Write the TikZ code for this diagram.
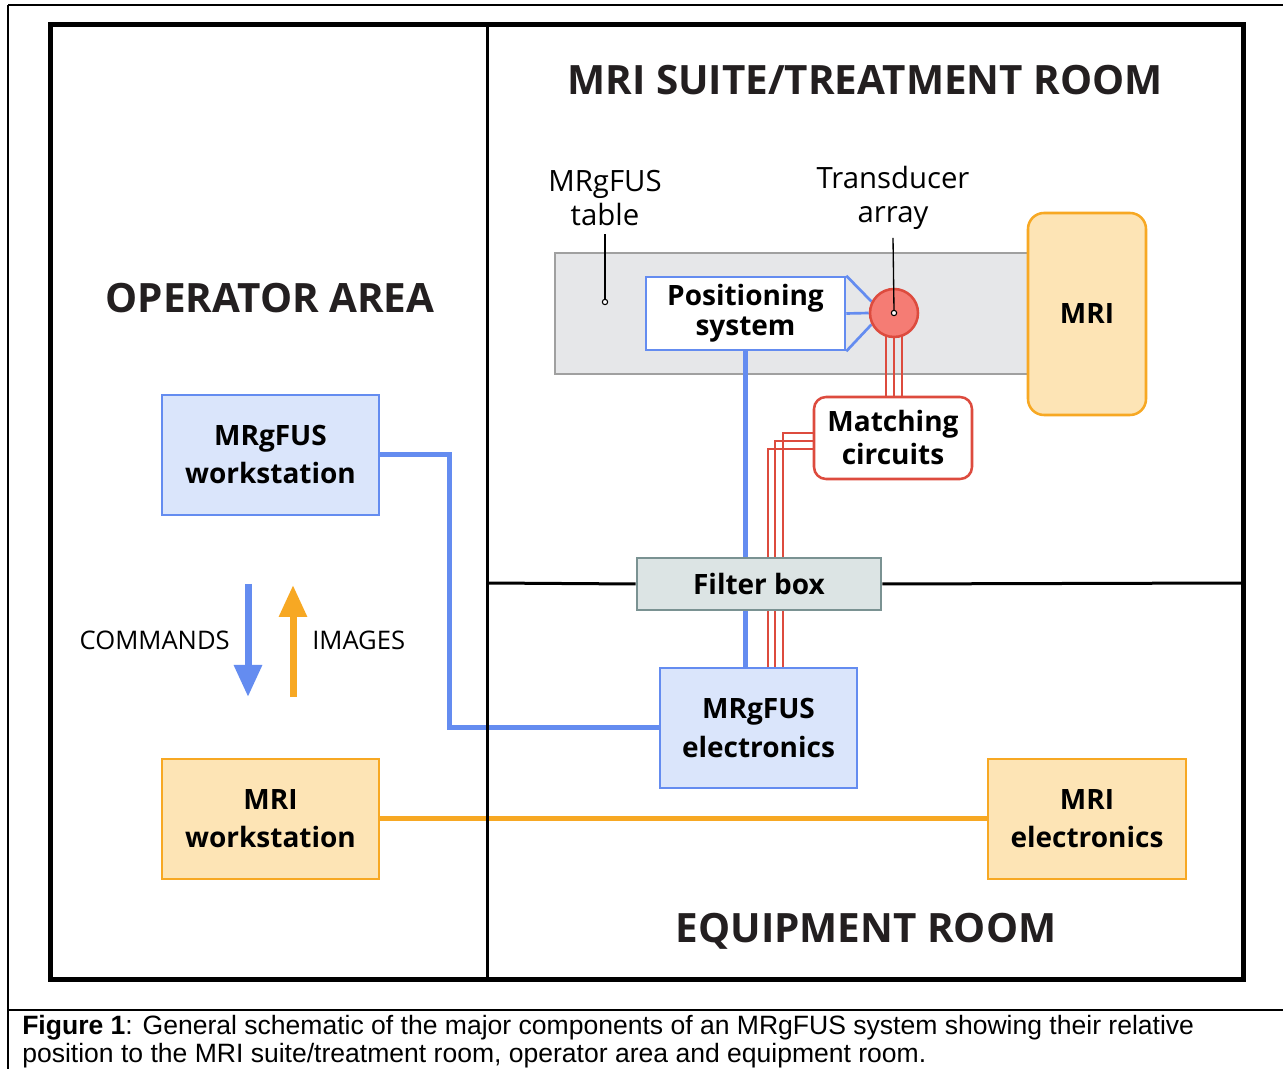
\documentclass[tikz,border=0pt]{standalone}
\usepackage{fontspec}
\setmainfont{Open Sans}
\newfontfamily\capfont{Liberation Sans}
\usetikzlibrary{arrows.meta,calc}
\definecolor{fusblue}{RGB}{100,140,240}
\definecolor{fusfill}{RGB}{218,229,251}
\definecolor{mriorange}{RGB}{247,168,35}
\definecolor{mrifill}{RGB}{253,228,181}
\definecolor{wirered}{RGB}{221,75,62}
\definecolor{transfill}{RGB}{245,124,116}
\definecolor{filterfill}{RGB}{220,228,228}
\definecolor{filterdraw}{RGB}{122,146,146}
\definecolor{tablefill}{RGB}{230,231,233}
\definecolor{tabledraw}{RGB}{160,160,160}
\definecolor{titlegray}{RGB}{35,31,32}
\pgfdeclarelayer{back}
\pgfdeclarelayer{wires}
\pgfsetlayers{back,wires,main}
\begin{document}
\begin{tikzpicture}[x=0.75pt,y=-0.75pt,
  sz/.style 2 args={minimum width=#1*0.75pt, minimum height=#2*0.75pt},
  box/.style={draw, line width=1.9pt, inner sep=0pt, align=center, text=black,
    font=\fontsize{21}{28.5}\selectfont\bfseries},
  fusbox/.style={box, draw=fusblue, fill=fusfill},
  mribox/.style={box, draw=mriorange, fill=mrifill},
  room/.style={font=\fontsize{30.3}{33}\selectfont\bfseries, text=titlegray, inner sep=0pt},
  lbl/.style={font=\fontsize{22}{25.5}\selectfont, align=center, text=black, inner sep=0pt},
  sidelbl/.style={font=\fontsize{19.2}{21}\selectfont, text=black, inner sep=0pt},
  fuswire/.style={draw=fusblue, line width=3.75pt},
  mriwire/.style={draw=mriorange, line width=3.75pt},
  redwire/.style={draw=wirered, line width=1.7pt},
  pinline/.style={draw=black, line width=1pt},
  pindot/.style={circle, draw=black, fill=white, line width=0.8pt, inner sep=0pt, minimum size=4pt},
  capt/.style={anchor=base west, inner sep=0pt, font=\capfont\fontsize{19.9}{22}\selectfont}
]
\useasboundingbox (0,0) rectangle (1283,1069);

% background and MRgFUS table
\begin{pgfonlayer}{back}
\fill[white] (0,0) rectangle (1283,1069);
\draw[fill=tablefill, draw=tabledraw, line width=1.4pt] (555,253) rectangle (1040,374);
\end{pgfonlayer}

% outer table lines of the figure
\draw[line width=1.2pt] (8,5) -- (1283,5);
\draw[line width=1.2pt] (8,5) -- (8,1069);
\draw[line width=1.5pt] (8,1010) -- (1283,1010);

% nodes
\node[fusbox, sz={217}{120}] (mwork) at (270.5,455) {MRgFUS\\workstation};
\node[mribox, sz={217}{120}] (mriws) at (270.5,819) {MRI\\workstation};
\node[mribox, sz={198}{120}] (mrie) at (1087,819) {MRI\\electronics};
\node[fusbox, sz={197}{120}] (fuse) at (758.5,728) {MRgFUS\\electronics};
\node[box, draw=fusblue, fill=white, sz={199}{73}, font=\fontsize{21}{22.5}\selectfont\bfseries] (pos) at (745.5,313.5) {Positioning\\system};
\node[box, draw=wirered, fill=white, rounded corners=9pt, sz={158}{82}, font=\fontsize{21}{24.75}\selectfont\bfseries] (match) at (893,438) {Matching\\circuits};
\node[mribox, rounded corners=12pt, sz={118}{202}] (mri) at (1087,314) {MRI};
\node[circle, draw=wirered, fill=transfill, line width=1.9pt, inner sep=0pt, minimum size=48*0.75pt] (trans) at (894,313) {};
\node[box, draw=filterdraw, fill=filterfill, sz={244}{52}] (filter) at (759,584) {Filter box};

% labels
\node[lbl] (tlabel) at (605,198) {MRgFUS\\table};
\node[lbl] (alabel) at (893,198) {Transducer\\array};
\node[pindot] (tdot) at (605,302) {};
\node[pindot] (adot) at (trans.center) {};
\draw[pinline] (tlabel.south) ++(0,8) -- (tdot.north);
\draw[pinline] (alabel.south) ++(0,8) -- (adot.north);

% room titles
\node[room] (op) at (270,298) {OPERATOR AREA};
\node[room] (suite) at (865,80) {MRI SUITE/TREATMENT ROOM};
\node[room] (equip) at (866,931) {EQUIPMENT ROOM};

% wires (behind nodes)
\begin{pgfonlayer}{wires}
\draw[fuswire] (mwork.east) -- ++(69,0) |- (fuse.west);
\draw[fuswire] (pos.south) -- (pos.south |- fuse.north);
\draw[mriwire] (mriws.east) -- (mrie.west);
\draw[fusblue, line width=2pt] (pos.north east) -- (trans.153);
\draw[fusblue, line width=2pt] (pos.east) -- (trans.west);
\draw[fusblue, line width=2pt] (pos.south east) -- (trans.207);
\draw[redwire] ($(trans.center)+(-8,0)$) -- ($(match.north)+(-7,0)$);
\draw[redwire] ($(trans.center)+(0,0)$) -- ($(match.north)+(1,0)$);
\draw[redwire] ($(trans.center)+(8,0)$) -- ($(match.north)+(9,0)$);
\draw[redwire] ($(match.west)+(4,-5)$) -| ($(fuse.north)+(24.5,0)$);
\draw[redwire] ($(match.west)+(4,3)$) -| ($(fuse.north)+(16.5,0)$);
\draw[redwire] ($(match.west)+(4,11)$) -| ($(fuse.north)+(9.5,0)$);
\end{pgfonlayer}

% room frame and dividers
\draw[line width=3.75pt] (50,25) rectangle (1243,979);
\draw[line width=2.25pt] (487,25) -- (487,979);
\draw[line width=2.25pt] (487,583) -- (filter.west);
\draw[line width=2.25pt] (filter.east) -- (1243,583);

% commands / images arrows
\coordinate (cmdtop) at (248,584);
\coordinate (cmdbot) at (248,697);
\coordinate (imgbot) at (293,697);
\coordinate (imgtop) at (293,585);
\draw[fusblue, line width=5.25pt, -{Triangle[width=20pt,length=24pt]}] (cmdtop) -- (cmdbot);
\draw[mriorange, line width=5.25pt, -{Triangle[width=20pt,length=24pt]}] (imgbot) -- (imgtop);
\node[sidelbl, anchor=east] (cmdlbl) at (230,640) {COMMANDS};
\node[sidelbl, anchor=west] (imglbl) at (312,640) {IMAGES};

% caption
\node[capt] (cap1) at (22,1034) {\textbf{Figure 1}: General schematic of the major components of an MRgFUS system showing their relative};
\node[capt] (cap2) at (22,1062) {position to the MRI suite/treatment room, operator area and equipment room.};
\end{tikzpicture}
\end{document}
